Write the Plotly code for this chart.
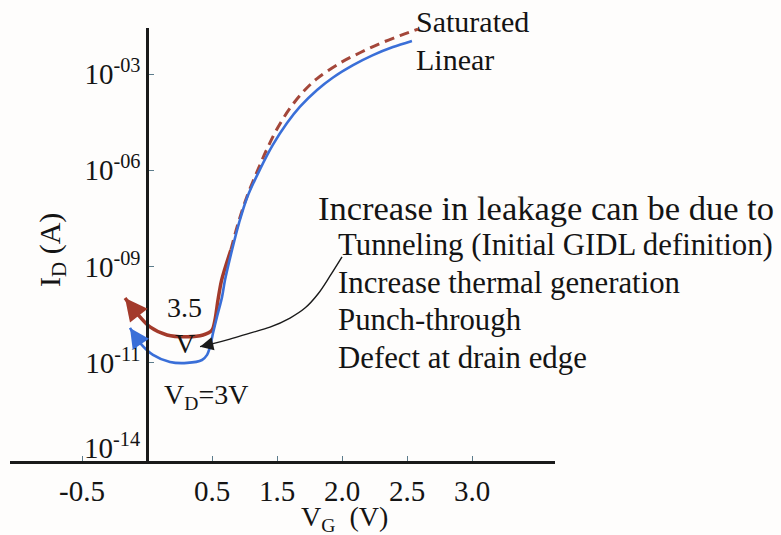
import math
import plotly.graph_objects as go

# ---------------- data ----------------
# x positions are on the drawn (evenly spaced) V_G scale; tick texts are the printed labels
vg_linear = [-0.131, -0.054, 0.046, 0.177, 0.308, 0.423, 0.462, 0.485, 0.508, 0.538, 0.577,
             0.600, 0.654, 0.708, 0.769, 0.869, 0.969, 1.077, 1.177, 1.308, 1.431, 1.585,
             1.738, 1.892, 2.038]
id_linear = [1.23e-11, 4.2e-12, 1.78e-12, 1.07e-12, 1.0e-12, 1.23e-12, 1.78e-12, 3.2e-12,
             8.5e-12, 2.7e-11, 1.12e-10, 3.8e-10, 3.3e-9, 2.3e-8, 1.38e-7, 1.07e-6, 6.3e-6,
             2.98e-5, 9.6e-5, 3.18e-4, 7.8e-4, 1.89e-3, 3.88e-3, 6.9e-3, 1.07e-2]

vg_sat_low = [-0.169, -0.077, 0.023, 0.154, 0.308, 0.431, 0.500, 0.523, 0.546, 0.574, 0.645]
id_sat_low = [1.05e-10, 3.5e-11, 1.32e-11, 7.4e-12, 6.5e-12, 7.4e-12, 1.05e-11, 2.2e-11,
              9.1e-11, 3.8e-10, 3.3e-9]

vg_sat_high = [0.645, 0.702, 0.765, 0.846, 0.923, 1.0, 1.1, 1.2, 1.308, 1.485, 1.638,
               1.792, 1.946, 2.085]
id_sat_high = [3.3e-9, 2.3e-8, 1.38e-7, 8.9e-7, 4.6e-6, 1.94e-5, 8.6e-5, 2.75e-4, 7.2e-4,
               2.2e-3, 4.6e-3, 8.9e-3, 1.57e-2, 2.5e-2]

# curved pointer from the list of causes to the leakage floor
ptr_x = [1.50, 1.408, 1.315, 1.215, 1.10, 0.946, 0.792, 0.638, 0.50, 0.408]
ptr_y = [2.0e-9, 5.1e-10, 1.4e-10, 5.1e-11, 2.5e-11, 1.3e-11, 8.5e-12, 5.5e-12,
         3.9e-12, 3.2e-12]

x_tickvals = [-0.5, 0.5, 1.0, 1.5, 2.0, 2.5]
x_ticktext = ["-0.5", "0.5", "1.5", "2.0", "2.5", "3.0"]
y_tickvals = [1e-3, 1e-6, 1e-9, 1e-12]
y_ticktext = ["10<sup>-03</sup>", "10<sup>-06</sup>", "10<sup>-09</sup>", "10<sup>-11</sup>"]

causes_title = "Increase in leakage can be due to"
causes = ["Tunneling (Initial GIDL definition)", "Increase thermal generation",
          "Punch-through", "Defect at drain edge"]

# ---------------- styling ----------------
W, H = 781, 535
ML, MR, MT, MB = 10, 226, 28, 74
FONT = "Liberation Serif, Times New Roman, serif"
TXT = "#141414"
BLUE = "#3a6fd8"
RED = "#a33a2b"
REDD = "#a4473a"
BG = "#fefdfc"

PW = W - ML - MR
PH = H - MT - MB
X0PX = 147          # pixel column of V_G = 0
XSCALE = 130        # pixels per unit of the drawn V_G scale
Y3PX = 74           # pixel row of 1e-3
DEC = 32.1          # pixels per decade


def px(xp):
    return (xp - ML) / PW


def py(yp):
    return (H - MB - yp) / PH


fig = go.Figure()

fig.add_trace(go.Scatter(x=vg_sat_low, y=id_sat_low, mode="lines",
                         line=dict(color=RED, width=3.5, shape="spline", smoothing=0.8), hoverinfo="skip"))
fig.add_trace(go.Scatter(x=vg_sat_high, y=id_sat_high, mode="lines",
                         line=dict(color=REDD, width=3, dash="10px,6px", shape="spline", smoothing=1.0),
                         hoverinfo="skip"))
fig.add_trace(go.Scatter(x=vg_linear, y=id_linear, mode="lines",
                         line=dict(color=BLUE, width=2.6, shape="spline", smoothing=0.9), hoverinfo="skip"))
fig.add_trace(go.Scatter(x=ptr_x, y=ptr_y, mode="lines",
                         line=dict(color="#1a1a1a", width=1.4, shape="spline"), hoverinfo="skip"))

ann = []


def arrowhead(tip_x, tip_y, from_x, from_y, col, w, size):
    ann.append(dict(x=tip_x, y=math.log10(tip_y), ax=from_x, ay=math.log10(from_y),
                    xref="x", yref="y", axref="x", ayref="y", text="", showarrow=True,
                    arrowhead=2, arrowsize=size, arrowwidth=w, arrowcolor=col, standoff=0))


arrowhead(vg_sat_low[0], id_sat_low[0], vg_sat_low[1], id_sat_low[1], RED, 3.2, 1.4)
arrowhead(vg_linear[0], id_linear[0], vg_linear[1], id_linear[1], BLUE, 2.8, 1.4)
arrowhead(ptr_x[-1], ptr_y[-1], ptr_x[-2], ptr_y[-2], "#1a1a1a", 1.4, 1.9)


def txt(text, xp, yp, size, xanchor="left", **kw):
    ann.append(dict(text=text, x=px(xp), y=py(yp), xref="paper", yref="paper", showarrow=False,
                    xanchor=xanchor, yanchor="middle", font=dict(family=FONT, size=size, color=TXT), **kw))


txt("Saturated", 414, 22, 30)
txt("Linear", 414, 60, 30)
txt(causes_title, 316, 208, 34.5)
for i, c in enumerate(causes):
    txt(c, 336, 245 + i * 37.5, 30.8)
txt("3.5", 184, 307, 28, xanchor="center")
txt("V", 185, 343, 28, xanchor="center")
txt("V<sub>D</sub>=3V", 162, 396, 28)
txt("10<sup>-14</sup>", 142, 446, 29, xanchor="right")
txt("V<sub>G</sub>  (V)", 344, 518, 28, xanchor="center")
txt("I<sub>D</sub> (A)", 52, 250, 30, xanchor="center", textangle=-90)

y_top = -3 + (Y3PX - MT) / DEC
y_bot = -3 - (H - MB - Y3PX) / DEC

fig.update_layout(
    width=W, height=H, margin=dict(l=ML, r=MR, t=MT, b=MB),
    paper_bgcolor=BG, plot_bgcolor=BG, showlegend=False,
    annotations=ann,
    xaxis=dict(range=[(ML - X0PX) / XSCALE, (W - MR - X0PX) / XSCALE],
               tickvals=x_tickvals, ticktext=x_ticktext,
               showgrid=False, zeroline=False, showline=True, linecolor="#1a1a1a", linewidth=2.5,
               ticks="inside", ticklen=5, tickcolor="#5d7c8c", tickwidth=1.2,
               tickfont=dict(family=FONT, size=29, color=TXT), ticklabelstandoff=2),
    yaxis=dict(type="log", range=[y_bot, y_top], tickvals=y_tickvals, ticktext=y_ticktext,
               anchor="free", position=px(X0PX), showgrid=False, zeroline=False, showline=True,
               linecolor="#1a1a1a", linewidth=2.5, ticks="inside", ticklen=5, tickcolor="#5d7c8c",
               tickwidth=1.2, tickfont=dict(family=FONT, size=29, color=TXT)),
)

fig.write_html("out.html", config={"displayModeBar": False},
               post_script="document.body.style.margin='0';")
